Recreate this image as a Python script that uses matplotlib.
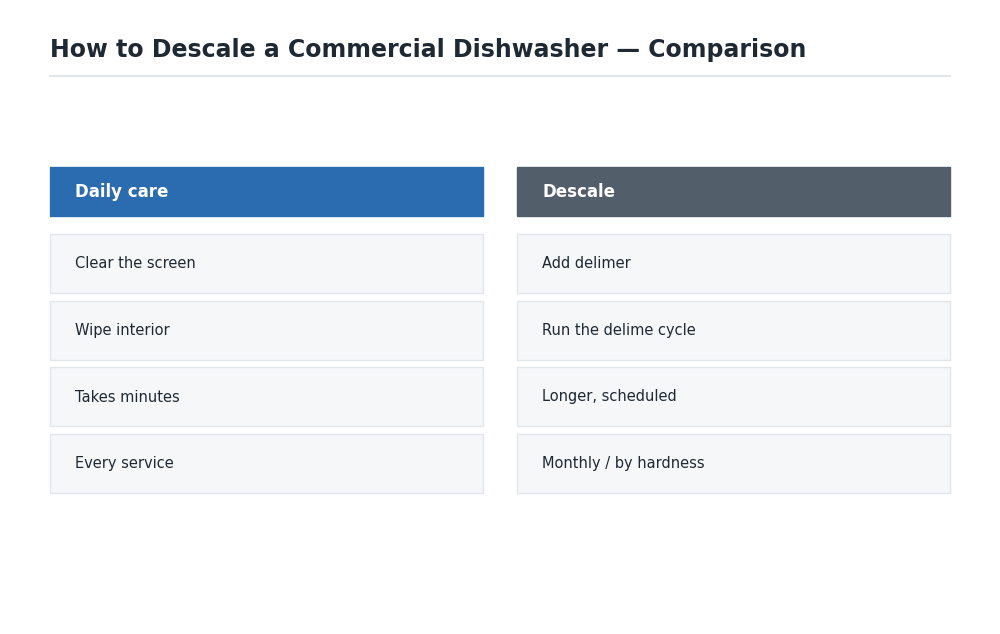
import matplotlib.pyplot as plt
from matplotlib.patches import Rectangle

titolo = "How to Descale a Commercial Dishwasher — Comparison"
colonne = ["Daily care", "Descale"]
righe_sinistra = ["Clear the screen", "Wipe interior", "Takes minutes", "Every service"]
righe_destra = ["Add delimer", "Run the delime cycle", "Longer, scheduled", "Monthly / by hardness"]
colori_testata = ["#2b6cb0", "#525f6b"]

fig = plt.figure(figsize=(10, 6.34), dpi=100)
ax = fig.add_axes([0, 0, 1, 1])
ax.set_xlim(0, 1000)
ax.set_ylim(634, 0)
ax.axis("off")

ax.text(50, 50, titolo, fontsize=17, fontweight="bold", color="#1f2933", va="center")
ax.plot([50, 950], [76, 76], color="#e2e6ea", lw=1.5)

x_col = [50, 517]
larghezza = 433
for i, (nome, righe) in enumerate(zip(colonne, [righe_sinistra, righe_destra])):
    x = x_col[i]
    ax.add_patch(Rectangle((x, 167), larghezza, 49, color=colori_testata[i]))
    ax.text(x + 25, 192, nome, fontsize=12, fontweight="bold", color="white", va="center")
    for j, r in enumerate(righe):
        y = 234 + j * 66.5
        ax.add_patch(Rectangle((x, y), larghezza, 59, facecolor="#f5f7f9",
                               edgecolor="#e2e6ea", lw=1))
        ax.text(x + 25, y + 30, r, fontsize=10.5, color="#1f2933", va="center")

fig.savefig("out.png", dpi=100)
